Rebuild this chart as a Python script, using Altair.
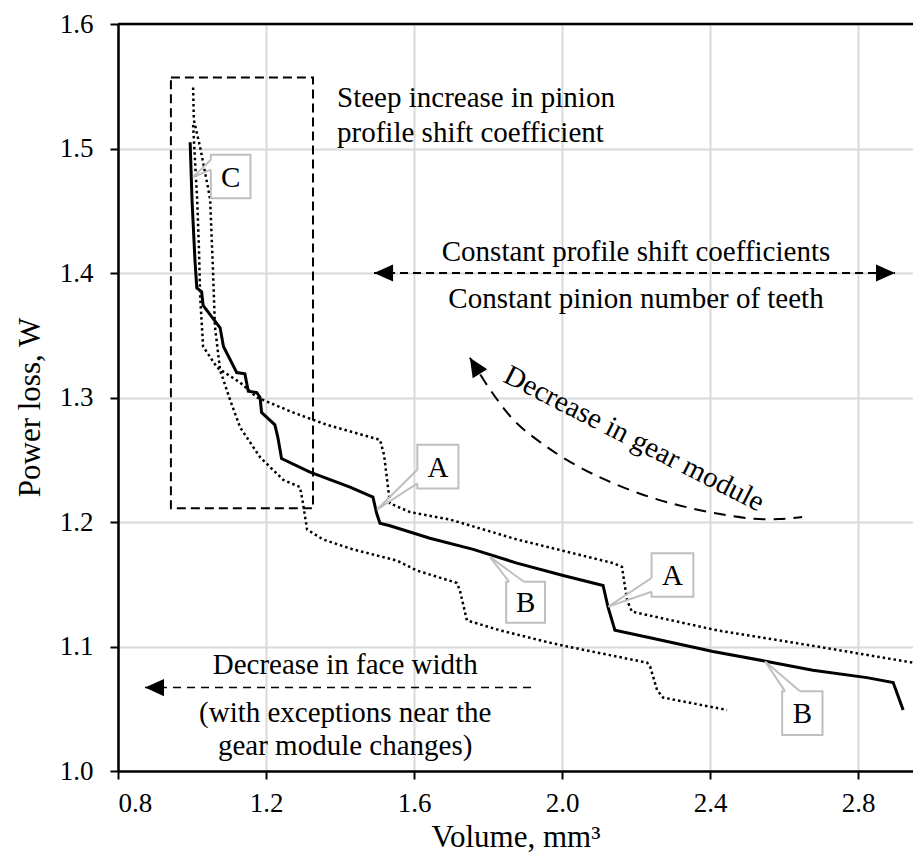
import altair as alt
import pandas as pd

# ---------------- data ----------------
solid_x = [0.995, 1.000, 1.008, 1.013, 1.026, 1.030, 1.053, 1.076, 1.085, 1.121, 1.143, 1.152, 1.175,
           1.184, 1.188, 1.224, 1.232, 1.242, 1.319, 1.427, 1.489, 1.499, 1.508, 1.535, 1.643, 1.760,
           1.878, 2.003, 2.111, 2.124, 2.135, 2.143, 2.238, 2.408, 2.554, 2.678, 2.824, 2.895, 2.922]
solid_y = [1.505, 1.459, 1.410, 1.388, 1.385, 1.374, 1.365, 1.356, 1.341, 1.320, 1.319, 1.305, 1.304,
           1.300, 1.288, 1.278, 1.268, 1.251, 1.240, 1.228, 1.220, 1.207, 1.199, 1.197, 1.187, 1.178,
           1.167, 1.157, 1.149, 1.132, 1.121, 1.113, 1.107, 1.096, 1.088, 1.081, 1.075, 1.071, 1.049]

upper_x = [1.003, 1.008, 1.014, 1.019, 1.022, 1.030, 1.068, 1.130, 1.176, 1.273, 1.365, 1.508, 1.519,
           1.535, 1.589, 1.697, 1.878, 2.138, 2.162, 2.176, 2.189, 2.419, 2.689, 2.949, 2.970]
upper_y = [1.519, 1.491, 1.459, 1.418, 1.381, 1.341, 1.324, 1.312, 1.300, 1.288, 1.278, 1.266, 1.254,
           1.215, 1.208, 1.202, 1.186, 1.167, 1.164, 1.137, 1.128, 1.113, 1.100, 1.087, 1.080]

lower_x = [1.003, 1.005, 1.022, 1.043, 1.049, 1.057, 1.062, 1.076, 1.103, 1.130, 1.184, 1.246, 1.292,
           1.300, 1.311, 1.354, 1.435, 1.554, 1.608, 1.716, 1.724, 1.743, 1.832, 1.968, 2.014, 2.230,
           2.238, 2.257, 2.273, 2.446]
lower_y = [1.549, 1.523, 1.501, 1.469, 1.459, 1.400, 1.357, 1.322, 1.298, 1.276, 1.252, 1.234, 1.228,
           1.215, 1.194, 1.186, 1.178, 1.169, 1.161, 1.151, 1.145, 1.121, 1.113, 1.103, 1.100, 1.087,
           1.084, 1.065, 1.059, 1.049]

x_ticks = [0.8, 1.2, 1.6, 2.0, 2.4, 2.8]
y_ticks = [1.0, 1.1, 1.2, 1.3, 1.4, 1.5, 1.6]

# annotation geometry (data units)
zone_x = [0.943, 1.327]
zone_y = [1.211, 1.557]

curve_x = [1.751, 1.792, 1.832, 1.878, 1.941, 2.003, 2.103, 2.238, 2.373, 2.508, 2.589, 2.649]
curve_y = [1.332, 1.312, 1.295, 1.278, 1.264, 1.251, 1.235, 1.219, 1.209, 1.202, 1.202, 1.204]

call_labels = ["C", "A", "A", "B", "B"]
call_x1 = [1.051, 1.609, 2.242, 1.849, 2.595]
call_x2 = [1.158, 1.720, 2.355, 1.954, 2.704]
call_y1 = [1.460, 1.227, 1.140, 1.119, 1.029]
call_y2 = [1.495, 1.262, 1.175, 1.152, 1.064]
tip_x = [1.003, 1.500, 2.125, 1.805, 2.549]
tip_y = [1.477, 1.210, 1.132, 1.172, 1.088]
att1_x = [1.051, 1.609, 2.242, 1.857, 2.603]
att1_y = [1.491, 1.242, 1.155, 1.152, 1.064]
att2_x = [1.051, 1.609, 2.242, 1.897, 2.643]
att2_y = [1.483, 1.231, 1.144, 1.152, 1.064]

FONT = "Liberation Serif"
XDOM = [0.8, 2.9486]
YDOM = [1.0, 1.6]

XS = alt.Scale(domain=XDOM, nice=False, zero=False)
YS = alt.Scale(domain=YDOM, nice=False, zero=False)
x_axis = alt.Axis(values=x_ticks, format=".1f", title="Volume, mm³", grid=True,
                  labelPadding=11, tickSize=8, titleY=75, titleBaseline="alphabetic")
y_axis = alt.Axis(values=y_ticks, format=".1f", title="Power loss, W", grid=True,
                  labelPadding=17, tickSize=8, titleX=-79, titleY=383, titleBaseline="alphabetic")


def ex(f):
    return alt.X(f, type="quantitative", scale=XS, axis=x_axis)


def ey(f):
    return alt.Y(f, type="quantitative", scale=YS, axis=y_axis)


# ---------------- tables ----------------
rows = []
for name, xs, ys in [("solid", solid_x, solid_y), ("upper", upper_x, upper_y), ("lower", lower_x, lower_y)]:
    for i, (a, b) in enumerate(zip(xs, ys)):
        rows.append({"series": name, "i": i, "x": a, "y": b})
series_df = pd.DataFrame(rows)

solid = alt.Chart(series_df[series_df.series == "solid"]).mark_line(
    color="black", strokeWidth=3, clip=True
).encode(x=ex("x"), y=ey("y"), order=alt.Order("i:Q"))

dotted = alt.Chart(series_df[series_df.series != "solid"]).mark_line(
    color="black", strokeWidth=2.5, strokeDash=[2.5, 3], clip=True
).encode(x=ex("x"), y=ey("y"), detail="series:N", order=alt.Order("i:Q"))

zone_df = pd.DataFrame({"x": [zone_x[0]], "x2": [zone_x[1]], "y": [zone_y[0]], "y2": [zone_y[1]]})
zone = alt.Chart(zone_df).mark_rect(
    fillOpacity=0, stroke="black", strokeWidth=2, strokeDash=[9, 5]
).encode(x=ex("x"), x2=alt.X2("x2"), y=ey("y"), y2=alt.Y2("y2"))

top_df = pd.DataFrame({"x": [XDOM[0]], "x2": [XDOM[1]], "y": [YDOM[1]]})
top_border = alt.Chart(top_df).mark_rule(color="black", strokeWidth=2.5).encode(
    x=ex("x"), x2=alt.X2("x2"), y=ey("y"))

# dashed arrows
harrow_df = pd.DataFrame({"x": [1.492, 2.900], "y": [1.4, 1.4], "i": [0, 1]})
harrow = alt.Chart(harrow_df).mark_line(color="black", strokeWidth=2, strokeDash=[8, 5]).encode(
    x=ex("x"), y=ey("y"), order=alt.Order("i:Q"))

farrow_df = pd.DataFrame({"x": [0.873, 1.922], "y": [1.067, 1.067], "i": [0, 1]})
farrow = alt.Chart(farrow_df).mark_line(color="black", strokeWidth=1.5, strokeDash=[8, 6]).encode(
    x=ex("x"), y=ey("y"), order=alt.Order("i:Q"))

curve_df = pd.DataFrame({"x": curve_x, "y": curve_y, "i": list(range(len(curve_x)))})
carrow = alt.Chart(curve_df).mark_line(color="black", strokeWidth=2, strokeDash=[12, 8],
                                       interpolate="basis").encode(
    x=ex("x"), y=ey("y"), order=alt.Order("i:Q"))

HEAD = "M0,0L2,-0.9L2,0.9Z"


def head(xv, yv, ang):
    d = pd.DataFrame({"x": [xv], "y": [yv]})
    return alt.Chart(d).mark_point(shape=HEAD, filled=True, color="black", opacity=1,
                                   size=361, angle=ang).encode(x=ex("x"), y=ey("y"))


heads = [head(1.492, 1.4, 0), head(2.900, 1.4, 180), head(0.873, 1.067, 0),
         head(curve_x[0], curve_y[0], 58)]

# callouts
box_df = pd.DataFrame({"label": call_labels, "x": call_x1, "x2": call_x2, "y": call_y1, "y2": call_y2,
                       "cx": [(a + b) / 2 for a, b in zip(call_x1, call_x2)],
                       "cy": [(a + b) / 2 for a, b in zip(call_y1, call_y2)]})
boxes = alt.Chart(box_df).mark_rect(fill="white", stroke="#bfbfbf", strokeWidth=2).encode(
    x=ex("x"), x2=alt.X2("x2"), y=ey("y"), y2=alt.Y2("y2"))

gap_df = pd.DataFrame({"x": att1_x, "x2": att2_x, "y": att1_y, "y2": att2_y})
gaps = alt.Chart(gap_df).mark_rule(color="white", strokeWidth=3).encode(
    x=ex("x"), x2=alt.X2("x2"), y=ey("y"), y2=alt.Y2("y2"))

wrows = []
for k in range(len(call_labels)):
    wrows.append({"k": k, "i": 0, "x": att1_x[k], "y": att1_y[k]})
    wrows.append({"k": k, "i": 1, "x": tip_x[k], "y": tip_y[k]})
    wrows.append({"k": k, "i": 2, "x": att2_x[k], "y": att2_y[k]})
wedges = alt.Chart(pd.DataFrame(wrows)).mark_line(color="#bfbfbf", strokeWidth=2).encode(
    x=ex("x"), y=ey("y"), detail="k:N", order=alt.Order("i:Q"))

letters = alt.Chart(box_df).mark_text(font=FONT, fontSize=29, color="black",
                                      baseline="middle", align="center", dy=1).encode(
    x=ex("cx"), y=ey("cy"), text="label:N")

# texts
left_txt = pd.DataFrame({"t": ["Steep increase in pinion", "profile shift coefficient"],
                         "x": [1.392, 1.392], "y": [1.533, 1.505]})
left_text = alt.Chart(left_txt).mark_text(font=FONT, fontSize=29, color="black", align="left",
                                          baseline="alphabetic").encode(
    x=ex("x"), y=ey("y"), text="t:N")

center_txt = pd.DataFrame({
    "t": ["Constant profile shift coefficients", "Constant pinion number of teeth",
          "Decrease in face width", "(with exceptions near the", "gear module changes)"],
    "x": [2.2, 2.2, 1.414, 1.414, 1.414],
    "y": [1.410, 1.372, 1.078, 1.039, 1.013]})
center_text = alt.Chart(center_txt).mark_text(font=FONT, fontSize=29, color="black", align="center",
                                              baseline="alphabetic").encode(
    x=ex("x"), y=ey("y"), text="t:N")

rot_txt = pd.DataFrame({"t": ["Decrease in gear module"], "x": [2.195], "y": [1.267]})
rot_text = alt.Chart(rot_txt).mark_text(font=FONT, fontSize=29, color="black", align="center",
                                        baseline="middle", angle=27).encode(
    x=ex("x"), y=ey("y"), text="t:N")

chart = alt.layer(
    zone, dotted, solid, boxes, gaps, wedges, letters, harrow, farrow, carrow, *heads,
    left_text, center_text, rot_text, top_border
).properties(
    width=795, height=747,
    autosize=alt.AutoSizeParams(type="none"),
    padding={"left": 110, "top": 16, "right": 0, "bottom": 82},
    background="white",
).configure_view(strokeWidth=0).configure_axis(
    labelFont=FONT, labelFontSize=27, labelColor="black",
    titleFont=FONT, titleFontSize=31, titleFontWeight="normal", titleColor="black",
    domainColor="black", domainWidth=2.5, tickColor="black", tickWidth=2,
    gridColor="#d9d9d9", gridWidth=2,
)

chart.save("out.html", embed_options={"renderer": "svg", "actions": False})
